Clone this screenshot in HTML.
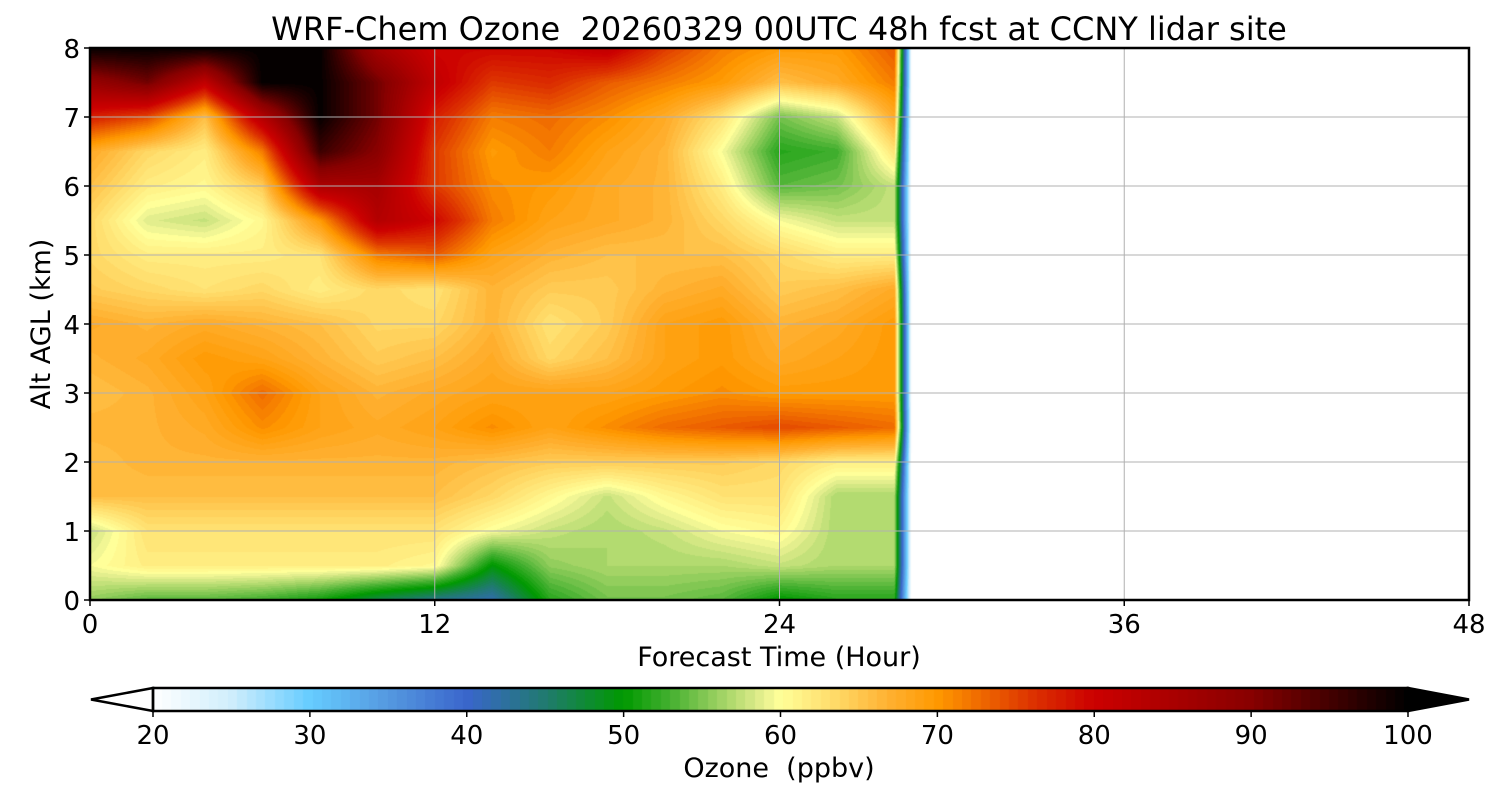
<!DOCTYPE html>
<html><head><meta charset="utf-8">
<style>
body{margin:0;background:#fff;width:1500px;height:800px;overflow:hidden;font-family:"Liberation Sans",sans-serif}
svg text{font-family:"DejaVu Sans","Liberation Sans",sans-serif;fill:#000;white-space:pre}
</style></head><body>
<div style="position:relative;width:1500px;height:800px">
<canvas id="plot" width="1379" height="552" style="position:absolute;left:90px;top:48px"></canvas>
<canvas id="cbar" width="1255" height="23" style="position:absolute;left:153px;top:688px"></canvas>
<svg id="svg" width="1500" height="800" style="position:absolute;left:0;top:0"></svg>
</div>
<script>
const hours=[0,2,4,6,8,10,12,14,16,18,20,22,24,26,28,28.6];
const heights=[0,0.5,1,1.5,2,2.5,3,3.5,4,4.5,5,5.5,6,6.5,7,7.5,8];
// ozone (ppbv) rows by height, columns by hour
const ozone=[
[56,54,54,53,51,47,44,42,52,55,55,54,50,52,52,20],
[60,62,62,62,62,62,61,50,56,57,57,57,58,57,57,20],
[58,63,63,63,63,63,63,60,58,57,58,60,61,57,57,20],
[66,66,66,66,66,66,66,64,61,58,61,63,63,57,57,20],
[66,67,67,67,67,67,67,66,65,65,65,65,64,62,62,20],
[67,67,68,71,69,68,69,71,69,71,73,74,75,74,73,20],
[66,67,69,73,69,67,68,69,69,69,70,71,70,70,70,20],
[67,68,70,69,67,65,66,68,64,66,69,70,68,69,70,20],
[68,67,68,67,66,64,64,67,63,65,69,70,67,68,70,20],
[65,64,63,64,62,64,63,67,65,65,67,68,65,66,68,20],
[64,62,62,62,63,72,74,69,67,66,66,66,64,62,62,20],
[64,59,58,61,70,84,80,72,69,68,67,64,60,58,58,20],
[66,62,61,65,85,86,76,71,70,68,67,62,54,55,58,20],
[68,64,62,72,96,90,76,70,72,69,67,60,52,53,63,20],
[78,75,66,84,100,92,78,72,73,71,68,63,55,58,68,20],
[88,92,82,100,100,92,82,76,77,74,72,70,66,68,72,20],
[100,100,100,100,100,86,80,80,80,82,76,72,70,70,74,20]];
const cbTicks=[20,30,40,50,60,70,80,90,100];
const xTicks=[0,12,24,36,48];
const yTicks=[0,1,2,3,4,5,6,7,8];

const stops=[[20,'#ffffff'],[25,'#d0eefc'],[30,'#66ccff'],[35,'#5599e0'],[40,'#3a66cc'],[45,'#207a70'],[50,'#009900'],[53,'#44b030'],[56,'#99d060'],[59,'#e8f090'],[60,'#ffff99'],[63,'#ffe070'],[67,'#ffb030'],[70,'#ff9900'],[73,'#ee6600'],[76,'#dd3300'],[80,'#cc0000'],[85,'#aa0000'],[90,'#880000'],[95,'#440000'],[100,'#000000']];
function hex(h){return [1,3,5].map(i=>parseInt(h.substr(i,2),16));}
function cmap(v){v=Math.max(20,Math.min(100,v));
 for(let i=1;i<stops.length;i++){if(v<=stops[i][0]){const a=stops[i-1],b=stops[i];const t=(v-a[0])/(b[0]-a[0]);const ca=hex(a[1]),cb=hex(b[1]);return ca.map((c,k)=>Math.round(c+(cb[k]-c)*t));}}
 return [0,0,0];}
const X0=90,X1=1469,Y0=600,Y1=48;
const xs=h=>X0+(h-0)/48*(X1-X0);
const ys=z=>Y0-(z/8)*(Y0-Y1);
function interp(h,z){
 let i=0;while(i<hours.length-2&&h>hours[i+1])i++;
 let j=0;while(j<heights.length-2&&z>heights[j+1])j++;
 const tx=(h-hours[i])/(hours[i+1]-hours[i]),ty=(z-heights[j])/(heights[j+1]-heights[j]);
 const a=ozone[j][i],b=ozone[j][i+1],c=ozone[j+1][i],d=ozone[j+1][i+1];
 return (a*(1-tx)+b*tx)*(1-ty)+(c*(1-tx)+d*tx)*ty;}
const cv=document.getElementById('plot'),ctx=cv.getContext('2d');
const W=cv.width,H=cv.height,img=ctx.createImageData(W,H);
const hmax=hours[hours.length-1];
for(let py=0;py<H;py++){const z=8*(1-(py+0.5)/H);
 for(let px=0;px<W;px++){const h=48*(px+0.5)/W;const o=(py*W+px)*4;
  let col=[255,255,255];
  if(h<=hmax){let v=interp(h,z);v=Math.floor(v/0.6)*0.6;col=cmap(v);}
  img.data[o]=col[0];img.data[o+1]=col[1];img.data[o+2]=col[2];img.data[o+3]=255;}}
ctx.putImageData(img,0,0);
const cb=document.getElementById('cbar'),cc=cb.getContext('2d');
for(let v=20;v<100;v+=0.6){const c=cmap(v+0.3);cc.fillStyle=`rgb(${c})`;const x=(v-20)/80*1255;cc.fillRect(Math.floor(x),0,Math.ceil(0.6/80*1255)+1,23);}
const svg=document.getElementById('svg');const NS='http://www.w3.org/2000/svg';
function el(t,a,txt){const e=document.createElementNS(NS,t);for(const k in a)e.setAttribute(k,a[k]);if(txt!==undefined)e.textContent=txt;svg.appendChild(e);return e;}
xTicks.forEach(t=>{const x=xs(t);
 const g=el('line',{x1:x,x2:x,y1:Y1,y2:Y0,stroke:'#b0b0b0','stroke-width':1});
 
 
 el('line',{x1:x,x2:x,y1:Y0,y2:Y0+6,stroke:'#000','stroke-width':1.5});
 const l=el('text',{x:x,y:Y0+33,'font-size':26,'text-anchor':'middle'},String(t));
 
 });
yTicks.forEach(t=>{const y=ys(t);
 const g=el('line',{x1:X0,x2:X1,y1:y,y2:y,stroke:'#b0b0b0','stroke-width':1});
 
 
 el('line',{x1:X0-6,x2:X0,y1:y,y2:y,stroke:'#000','stroke-width':1.5});
 const l=el('text',{x:X0-10,y:y+10,'font-size':26,'text-anchor':'end'},String(t));
 
 });
const fr=el('rect',{x:X0,y:Y1,width:X1-X0,height:Y0-Y1,fill:'none',stroke:'#000','stroke-width':2.5});


const tt=el('text',{x:779,y:40,'font-size':32,'text-anchor':'middle'},'WRF-Chem Ozone  20260329 00UTC 48h fcst at CCNY lidar site');


const xl=el('text',{x:779,y:666,'font-size':27,'text-anchor':'middle'},'Forecast Time (Hour)');


const yl=el('text',{x:0,y:0,'font-size':27,'text-anchor':'middle',transform:'translate(50,324) rotate(-90)'},'Alt AGL (km)');


const cbx=v=>153+(v-20)/80*1255;
const lt=el('polygon',{points:'153,688 91,699.5 153,711',fill:'#fff',stroke:'#000','stroke-width':2.5});


const rt=el('polygon',{points:'1408,688 1469,699.5 1408,711',fill:'#000',stroke:'#000','stroke-width':2.5});


el('rect',{x:153,y:688,width:1255,height:23,fill:'none',stroke:'#000','stroke-width':2.5});
cbTicks.forEach(t=>{const x=cbx(t);
 el('line',{x1:x,x2:x,y1:711,y2:717,stroke:'#000','stroke-width':1.5});
 const l=el('text',{x:x,y:744,'font-size':26,'text-anchor':'middle'},String(t));
 
 });
const cl=el('text',{x:779,y:777,'font-size':27,'text-anchor':'middle'},'Ozone  (ppbv)');


</script>
</body></html>
